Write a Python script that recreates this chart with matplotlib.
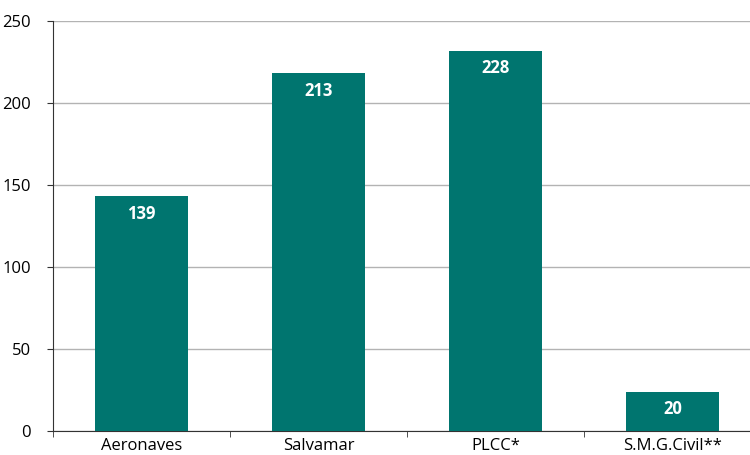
import numpy as np
import matplotlib.pyplot as plt
from matplotlib import rcParams

rcParams['font.family'] = ['Open Sans', 'DejaVu Sans']
rcParams['font.size'] = 12

# data
categories = ['Aeronaves', 'Salvamar', 'PLCC*', 'S.M.G.Civil**']
bar_heights = [143, 218, 232, 24]      # drawn bar heights
value_labels = ['139', '213', '228', '20']  # printed labels
yticks = [0, 50, 100, 150, 200, 250]

teal = '#00756F'

fig = plt.figure(figsize=(7.5, 4.55), dpi=100)
ax = fig.add_axes([53/750, 24/455, 708/750, 410/455])

x = np.arange(len(categories))
bars = ax.bar(x, bar_heights, width=0.52, color=teal, zorder=3)

for b, lab in zip(bars, value_labels):
    ax.annotate(lab, (b.get_x() + b.get_width()/2, b.get_height()),
                xytext=(0, -12.5), textcoords='offset points',
                ha='center', va='center', color='white',
                fontweight='bold', fontsize=12, zorder=4)

ax.set_xlim(-0.5, len(categories) - 0.5)
ax.set_ylim(0, 250)
ax.set_yticks(yticks)
ax.yaxis.grid(True, color='#b3b3b3', linewidth=1, zorder=0)

ax.set_xticks(x)
ax.set_xticklabels(categories)
ax.set_xticks(np.arange(-0.5, len(categories), 1), minor=True)
ax.tick_params(axis='x', which='major', length=0, pad=5)
ax.tick_params(axis='x', which='minor', length=4, color='#333333')
ax.tick_params(axis='y', length=4, color='#333333', pad=12)

for s in ['top', 'right']:
    ax.spines[s].set_visible(False)
ax.spines['left'].set_color('#333333')
ax.spines['bottom'].set_color('#333333')

plt.savefig('out.png', dpi=100)
